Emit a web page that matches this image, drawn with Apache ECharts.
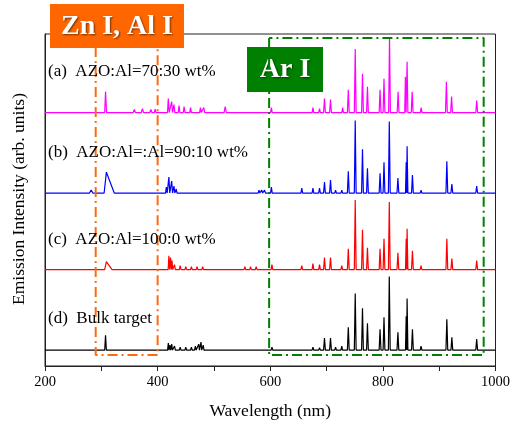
<!DOCTYPE html>
<html>
<head>
<meta charset="utf-8">
<script src="https://cdn.jsdelivr.net/npm/echarts@6/dist/echarts.min.js"></script>
<style>html,body{margin:0;padding:0;background:#fff}#c{width:513px;height:425px}</style>
</head>
<body>
<div id="c"></div>
<script>
// x-axis tick labels (nm)
const tickLabels = ['200', '400', '600', '800', '1000'];
// Series names and labels
const seriesNames = ['(a)  AZO:Al=70:30 wt%', '(b)  AZO:Al=:Al=90:10 wt%', '(c)  AZO:Al=100:0 wt%', '(d)  Bulk target'];
// Vertical offsets of each spectrum (arb. units)
const baselines = [255, 174, 97, 16];
// Peaks: [wavelength nm, height arb., half-width left nm, half-width right nm]
const peaksA = [[307.5,21,1.5,1.8],[358.6,3,2,2],[373,4,2,2],[388,3,2,2],[395.6,3.5,1.5,1.5],[419,14,1.5,1.5],[425,11,1.5,1.5],[429,8,1.5,1.5],[438,7,1.5,1.5],[447,6,1.5,1.5],[458.5,5,1.5,1.5],[476,5,1.5,1.5],[482,5,1.5,1.5],[520,6,2,2],[602,5,1.5,1.5],[637.5,2,1.5,1.5],[675.8,5,1.5,1.5],[687.5,4,1.5,1.5],[696.3,14,1.6,1.6],[707,13,1.6,1.6],[728.6,5,1.5,1.5],[738.6,23,1.6,1.6],[750.9,64,1.6,1.6],[763.8,39,1.6,1.6],[772.6,26,1.6,1.6],[795,23,1.6,1.6],[802,34,1.6,1.6],[811.8,75,1.6,1.6],[827,21,1.6,1.6],[840,36,1.2,1.2],[843,51,1.2,1.4],[852,21,1.6,1.6],[868,5,1.5,1.5],[912.8,31,1.6,1.6],[922,16,1.6,1.6],[966.6,12,1.6,1.6]];
const peaksB = [[282,3,3,3],[309,21,4,14],[355,2,2,2],[397,2,2,2],[415.5,6,1.5,1.5],[420,16,1.5,1.5],[425,12,1.5,1.5],[429,7,1.5,1.5],[433,4,1.5,1.5],[445,2,1.5,1.5],[460,2,1.5,1.5],[470,2,1.5,1.5],[480,2,1.5,1.5],[500,2,1.5,1.5],[520,2,1.5,1.5],[545,2,1.5,1.5],[560,2,1.5,1.5],[580,3,1.5,1.5],[585,3,1.5,1.5],[590,3,1.5,1.5],[602,6,1.5,1.5],[656,5,1.5,1.5],[675.8,5,1.5,1.5],[687.5,5,1.5,1.5],[696.3,11,1.6,1.6],[707,13,1.6,1.6],[716,3,1.5,1.5],[727,3,1.5,1.5],[738.6,22,1.6,1.6],[750.9,73,1.6,1.6],[763.8,44,1.6,1.6],[772.6,25,1.6,1.6],[795,20,1.6,1.6],[802,31,1.6,1.6],[811.4,72,1.6,1.6],[826.7,15,1.6,1.6],[841.4,31,1.2,0.8],[843,47,0.8,1.4],[852.5,18,1.6,1.6],[867.8,3,1.5,1.5],[913.6,32,1.6,1.6],[922.5,9,1.6,1.6],[966.6,7,1.6,1.6]];
const peaksC = [[282,2,3,3],[309,8,3,10],[355,1.5,2,2],[420,14,1.3,1.3],[423,12,1.3,1.3],[425.5,9,1.3,1.3],[430,5,1.5,1.5],[440,4,1.5,1.5],[450,3,1.5,1.5],[460,3,1.5,1.5],[470,3,1.5,1.5],[480,3,1.5,1.5],[500,2,1.5,1.5],[525,2,1.5,1.5],[555,3,1.5,1.5],[565,3,1.5,1.5],[575,3,1.5,1.5],[603,5,1.5,1.5],[656,4,1.5,1.5],[675.8,6,1.5,1.5],[687.5,5,1.5,1.5],[696.3,12,1.6,1.6],[707,12,1.6,1.6],[727,4,1.5,1.5],[738.6,21,1.6,1.6],[750.9,70,1.6,1.6],[763.8,40,1.6,1.6],[772.6,22,1.6,1.6],[795,21,1.6,1.6],[802,31,1.6,1.6],[811.4,68,1.6,1.6],[826.7,17,1.6,1.6],[841.4,31,1.2,0.8],[843,41,0.8,1.4],[852.5,19,1.6,1.6],[867.8,4,1.5,1.5],[913.6,31,1.6,1.6],[922.5,11,1.6,1.6],[966.6,9,1.6,1.6]];
const peaksD = [[307.5,15,1.5,1.5],[330,1,2,2],[360,1,2,2],[419,7,1.3,1.3],[422,5,1.3,1.3],[425,6,1.3,1.3],[430,4,1.5,1.5],[440,3,1.5,1.5],[450,3,1.5,1.5],[460,3,1.5,1.5],[467,4,1.5,1.5],[473,6,1.3,1.3],[477,8,1.3,1.3],[481,5,1.3,1.3],[500,2,1.5,1.5],[520,2,1.5,1.5],[540,2,1.5,1.5],[560,1,1.5,1.5],[603,3,1.5,1.5],[636,2,1.5,1.5],[675.8,3,1.5,1.5],[687.5,2.5,1.5,1.5],[696.3,12,1.6,1.6],[707,12,1.6,1.6],[716,3,1.5,1.5],[727,4,1.5,1.5],[738.6,23,1.6,1.6],[750.9,57,1.6,1.6],[763.8,42,1.6,1.6],[772.6,27,1.6,1.6],[795,21,1.6,1.6],[802,33,1.6,1.6],[811.4,74,1.6,1.6],[826.7,18,1.6,1.6],[841.4,34,1.2,0.8],[843,52,0.8,1.4],[852.5,21,1.6,1.6],[867.8,4,1.5,1.5],[913.6,31,1.6,1.6],[922.5,13,1.6,1.6],[966.6,11,1.6,1.6]];
// Annotation regions: [x0, x1, yBottom, yTop]
const regionZnAl = [290, 400, 11, 321];
const regionAr = [598, 979, 11, 330];

const colors = ['#FF00FF', '#0000FF', '#FF0000', '#000000'];
const allPeaks = [peaksA, peaksB, peaksC, peaksD];

function buildSpectrum(peaks, base) {
  const pts = [[200, base]];
  peaks.forEach(p => {
    pts.push([p[0] - p[2], base]);
    pts.push([p[0], base + p[1]]);
    pts.push([p[0] + p[3], base]);
  });
  pts.push([1000, base]);
  pts.sort((a, b) => a[0] - b[0]);
  return pts;
}

const series = allPeaks.map((pk, i) => ({
  type: 'line', name: seriesNames[i], data: buildSpectrum(pk, baselines[i]),
  showSymbol: false, symbol: 'none', animation: false,
  lineStyle: { color: colors[i], width: 1.2 }, z: 2
}));

function rectPath(r, open) {
  return open ? [[r[0], r[3]], [r[0], r[2]], [r[1], r[2]], [r[1], r[3]]]
              : [[r[0], r[3]], [r[0], r[2]], [r[1], r[2]], [r[1], r[3]], [r[0], r[3]]];
}
series.push({
  type: 'line', data: rectPath(regionZnAl, true), showSymbol: false, symbol: 'none', animation: false,
  lineStyle: { color: '#FF6A10', width: 2, type: [10, 4, 2, 4] }, z: 3
});
series.push({
  type: 'line', data: rectPath(regionAr, false), showSymbol: false, symbol: 'none', animation: false,
  lineStyle: { color: '#008000', width: 2, type: [10, 4, 2, 4] }, z: 3
});

const serif = '"Liberation Serif", "DejaVu Serif", serif';
const labelYs = [72, 153, 240, 319];

const chart = echarts.init(document.getElementById('c'));
chart.setOption({
  animation: false,
  backgroundColor: '#fff',
  grid: { left: 45, right: 14, top: 34, bottom: 57, show: true, borderColor: '#222', borderWidth: 1 },
  xAxis: {
    type: 'value', min: 200, max: 1000, interval: 100,
    name: 'Wavelength (nm)', nameLocation: 'middle', nameGap: 36,
    nameTextStyle: { fontFamily: serif, fontSize: 17.5, color: '#000' },
    axisLine: { lineStyle: { color: '#222', width: 1 } },
    axisTick: { show: true, inside: false, length: 5, lineStyle: { color: '#222' } },
    axisLabel: {
      fontFamily: serif, fontSize: 14.5, color: '#000', margin: 9,
      formatter: v => tickLabels.indexOf(String(v)) >= 0 ? String(v) : ''
    },
    splitLine: { show: false }
  },
  yAxis: {
    type: 'value', min: 0, max: 334,
    axisLine: { show: true, lineStyle: { color: '#222' } },
    axisTick: { show: false }, axisLabel: { show: false }, splitLine: { show: false }
  },
  series: series,
  graphic: [
    {
      type: 'text', x: 19, y: 199, rotation: Math.PI / 2, z: 10,
      style: { text: 'Emission Intensity (arb. units)', font: '17.5px ' + serif, fill: '#000', align: 'center', verticalAlign: 'middle' }
    },
    ...seriesNames.map((t, i) => ({
      type: 'text', x: 48, y: labelYs[i], z: 10,
      style: { text: t, font: '17px ' + serif, fill: '#000', verticalAlign: 'middle' }
    })),
    {
      type: 'group', left: 50, top: 4, z: 20, children: [
        { type: 'rect', shape: { x: 0, y: 0, width: 134, height: 44 }, style: { fill: '#FF6600' } },
        { type: 'text', x: 67, y: 23, style: { text: 'Zn I, Al I', font: 'bold 28px ' + serif, fill: '#fff', align: 'center', verticalAlign: 'middle', textShadowColor: 'rgba(0,0,0,0.55)', textShadowBlur: 2, textShadowOffsetX: 1, textShadowOffsetY: 1 } }
      ]
    },
    {
      type: 'group', left: 247, top: 47, z: 20, children: [
        { type: 'rect', shape: { x: 0, y: 0, width: 76, height: 45 }, style: { fill: '#008000' } },
        { type: 'text', x: 38, y: 23, style: { text: 'Ar I', font: 'bold 28px ' + serif, fill: '#fff', align: 'center', verticalAlign: 'middle', textShadowColor: 'rgba(0,0,0,0.55)', textShadowBlur: 2, textShadowOffsetX: 1, textShadowOffsetY: 1 } }
      ]
    }
  ]
});
</script>
</body>
</html>
